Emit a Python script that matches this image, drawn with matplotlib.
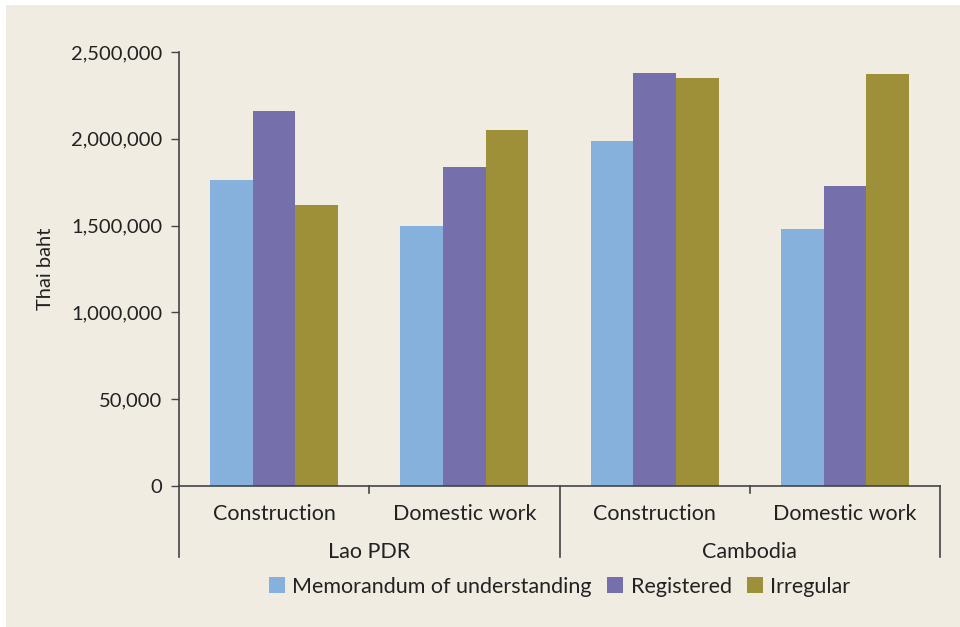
import matplotlib.pyplot as plt
from matplotlib.patches import Rectangle
from matplotlib.lines import Line2D
import numpy as np

plt.rcParams['font.family'] = ['Lato', 'DejaVu Sans']

# data
countries = ['Lao PDR', 'Cambodia']
sectors = ['Construction', 'Domestic work', 'Construction', 'Domestic work']
series = ['Memorandum of understanding', 'Registered', 'Irregular']
mou = [1762000, 1498000, 1987000, 1480000]
registered = [2160000, 1838000, 2379000, 1728000]
irregular = [1619000, 2051000, 2350000, 2373000]
yticks = [0, 500000, 1000000, 1500000, 2000000, 2500000]
ytick_labels = ['0', '50,000', '1,000,000', '1,500,000', '2,000,000', '2,500,000']

colors = ['#87b1dd', '#7570ab', '#9e8f39']
bg = '#f0ece2'
ink = '#222222'

fig = plt.figure(figsize=(9.6, 6.27), dpi=100, facecolor='white')
fig.patches.append(Rectangle((6 / 960, 0), 1, 1 - 5 / 627, transform=fig.transFigure,
                             facecolor=bg, edgecolor='none', zorder=-10))

ax = fig.add_axes([179 / 960, (627 - 486) / 627, 761 / 960, 434 / 627])
ax.set_facecolor(bg)

x = np.arange(len(sectors))
w = 0.224
for i, (vals, c, name) in enumerate(zip([mou, registered, irregular], colors, series)):
    ax.bar(x + (i - 1) * w, vals, width=w, color=c, label=name, zorder=2)

ax.set_xlim(-0.5, 3.5)
ax.set_ylim(0, 2500000)
ax.set_yticks(yticks)
ax.set_yticklabels(ytick_labels, fontsize=14.5, color=ink)
ax.tick_params(axis='y', length=6, width=1, color='#444444', pad=6)
ax.set_xticks([])
for s in ['top', 'right']:
    ax.spines[s].set_visible(False)
ax.spines['left'].set_color('#444444')
ax.spines['bottom'].set_color('#444444')
ax.spines['left'].set_linewidth(1.2)
ax.spines['bottom'].set_linewidth(1.2)
ax.set_ylabel('Thai baht', fontsize=14.5, color=ink, labelpad=12)

# two-level category axis
trans = ax.get_xaxis_transform()
for xs in [0.5, 2.5]:
    ax.add_line(Line2D([xs, xs], [0, -0.017], transform=trans, color='#444444',
                       lw=1.2, clip_on=False))
for xs in [-0.5, 1.5, 3.5]:
    ax.add_line(Line2D([xs, xs], [0, -0.164], transform=trans, color='#444444',
                       lw=1.2, clip_on=False))
for xi, s in zip(x, sectors):
    ax.text(xi, -0.065, s, transform=trans, ha='center', va='center',
            fontsize=15.5, color=ink)
for k, cname in enumerate(countries):
    ax.text(0.5 + 2 * k, -0.153, cname, transform=trans, ha='center', va='center',
            fontsize=15.5, color=ink)

ax.legend(loc='center', bbox_to_anchor=(0.5, -0.232), ncol=3, frameon=False,
          fontsize=15.5, handlelength=0.75, handleheight=0.75, handletextpad=0.35,
          columnspacing=0.7, labelcolor=ink)

fig.savefig('out.png', dpi=100, facecolor='white')
